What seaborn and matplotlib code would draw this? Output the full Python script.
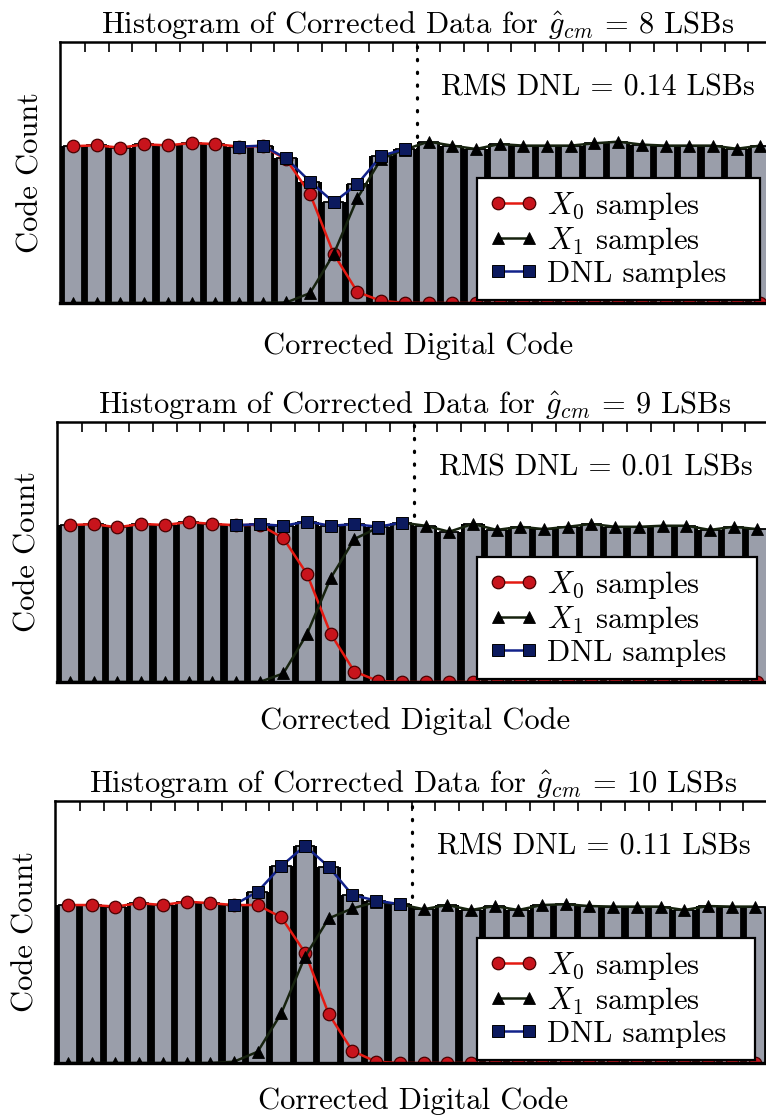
import numpy as np
import matplotlib
matplotlib.use("Agg")
import matplotlib.pyplot as plt
import seaborn as sns

# codes shown in each histogram window
codes = list(range(30))

# g_cm = 8 LSBs
counts_8 = [601, 604, 595, 608, 604, 613, 609, 599, 603, 554, 465, 386, 456, 564, 590,
            618, 603, 590, 609, 603, 603, 603, 612, 618, 607, 603, 603, 603, 591, 603]
x0_8 = [601, 604, 595, 608, 604, 613, 609, 599, 601, 550, 418, 188, 42, 8, 1,
        0, 0, 0, 0, 0, 0, 0, 0, 0, 0, 0, 0, 0, 0, 0]
x1_8 = [0, 0, 0, 0, 0, 0, 0, 0, 0, 2, 38, 188, 402, 552, 588,
        618, 603, 590, 609, 603, 603, 603, 612, 618, 607, 603, 603, 603, 591, 603]

# g_cm = 9 LSBs
counts_9 = [604, 607, 595, 608, 604, 615, 608, 603, 607, 601, 617, 601, 607, 597, 613,
            601, 578, 608, 585, 597, 588, 597, 608, 597, 597, 601, 601, 585, 597, 588]
x0_9 = [604, 607, 595, 608, 604, 615, 608, 603, 605, 553, 415, 185, 40, 4, 0,
        0, 0, 0, 0, 0, 0, 0, 0, 0, 0, 0, 0, 0, 0, 0]
x1_9 = [0, 0, 0, 0, 0, 0, 0, 0, 0, 33, 185, 400, 550, 594, 613,
        601, 578, 608, 585, 597, 588, 597, 608, 597, 597, 601, 601, 585, 597, 588]

# g_cm = 10 LSBs
counts_10 = [603, 603, 597, 610, 603, 616, 610, 603, 654, 752, 829, 749, 641, 620, 606,
             587, 603, 584, 599, 584, 603, 606, 599, 597, 597, 597, 584, 599, 597, 597]
x0_10 = [603, 603, 597, 610, 603, 616, 610, 603, 603, 556, 421, 187, 46, 5, 0,
         0, 0, 0, 0, 0, 0, 0, 0, 0, 0, 0, 0, 0, 0, 0]
x1_10 = [0, 0, 0, 0, 0, 0, 0, 5, 43, 190, 406, 552, 590, 615, 606,
         587, 603, 584, 599, 584, 603, 606, 599, 597, 597, 597, 584, 599, 597, 597]

gains = ['8', '9', '10']
rms_dnl = ['0.14', '0.01', '0.11']
dnl_start, dnl_stop = 7, 15
split_code = 14.5

panels = [(counts_8, x0_8, x1_8), (counts_9, x0_9, x1_9), (counts_10, x0_10, x1_10)]

sns.set_style('white')
plt.rcParams['font.family'] = ['cmr10', 'DejaVu Serif']
plt.rcParams['mathtext.fontset'] = 'cm'
plt.rcParams['axes.formatter.use_mathtext'] = True
plt.rcParams['text.color'] = 'black'
plt.rcParams['axes.labelcolor'] = 'black'

W, H = 766, 1120
fig = plt.figure(figsize=(W / 100, H / 100), dpi=100)

# axes boxes in pixels: left, top, bottom
boxes = [(60, 42, 303), (57, 422, 682), (55, 801, 1063)]
xlabel_pads = [21, 18, 17]
ax_w = 716
fs = 22

for (counts, x0, x1), g, rms, (lp, tp, bp), xpad in zip(panels, gains, rms_dnl, boxes, xlabel_pads):
    ax = fig.add_axes([lp / W, 1 - bp / H, ax_w / W, (bp - tp) / H])

    ax.axvline(split_code, color='black', ls=(0, (0.4, 3.6)), lw=2.3,
               dash_capstyle='round', zorder=0.5)

    # black full-width bars give the dark separators, grey bars on top
    sns.barplot(x=codes, y=counts, native_scale=True, width=1.0, color='black',
                saturation=1, errorbar=None, linewidth=0, ax=ax, zorder=1)
    sns.barplot(x=codes, y=counts, native_scale=True, width=0.78, color='#9a9eaa',
                saturation=1, errorbar=None, edgecolor='black', linewidth=1.3,
                ax=ax, zorder=1.1)

    sns.lineplot(x=codes, y=x0, color='#e41a12', lw=1.8, marker='o', ms=9,
                 markerfacecolor='#c8141c', markeredgecolor='#4a0000', markeredgewidth=0.9,
                 errorbar=None, sort=False, label='$X_0$ samples', ax=ax, zorder=3)
    sns.lineplot(x=codes, y=x1, color='#16220e', lw=1.8, marker='^', ms=8.5,
                 markerfacecolor='black', markeredgecolor='black', markeredgewidth=0.6,
                 errorbar=None, sort=False, label='$X_1$ samples', ax=ax, zorder=3.2)
    sns.lineplot(x=codes[dnl_start:dnl_stop], y=counts[dnl_start:dnl_stop],
                 color='#12228a', lw=1.8, marker='s', ms=8,
                 markerfacecolor='#0c1a5e', markeredgecolor='black', markeredgewidth=0.7,
                 errorbar=None, sort=False, label='DNL samples', ax=ax, zorder=3.4)

    ax.set_xlim(-0.55, -0.55 + ax_w / 23.7)
    ax.set_ylim(0, 1000)
    ax.set_xticks(np.arange(0.5, 30, 1))
    ax.set_yticks([])
    ax.tick_params(axis='x', which='both', direction='in', top=True, bottom=True,
                   length=7, width=1.2, color='black', labelbottom=False, labeltop=False)
    for side, sp in ax.spines.items():
        sp.set_visible(True)
        sp.set_color('black')
        sp.set_linewidth(2.4 if side == 'bottom' else 1.8)
        sp.set_zorder(5)

    ax.set_title(r'Histogram of Corrected Data for $\hat{g}_{cm}$ = %s LSBs' % g,
                 fontsize=fs, pad=6, color='black')
    ax.set_xlabel('Corrected Digital Code', fontsize=fs, labelpad=xpad)
    ax.set_ylabel('Code Count', fontsize=fs, labelpad=11)
    ax.text(0.971, 0.825, 'RMS DNL = %s LSBs' % rms, transform=ax.transAxes,
            ha='right', va='center', fontsize=21.5)

    x_left = (477 - lp) / ax_w
    leg = ax.legend(loc='lower left', bbox_to_anchor=(x_left, 0.012, 0.978 - x_left, 0.3),
                    mode='expand', borderaxespad=0, fancybox=False, framealpha=1,
                    edgecolor='black', fontsize=fs, handlelength=1.6, handletextpad=0.3,
                    labelspacing=0.1, borderpad=0.4, numpoints=2)
    leg.get_frame().set_linewidth(1.6)
    leg.set_zorder(6)

fig.savefig('out.png', dpi=100)
